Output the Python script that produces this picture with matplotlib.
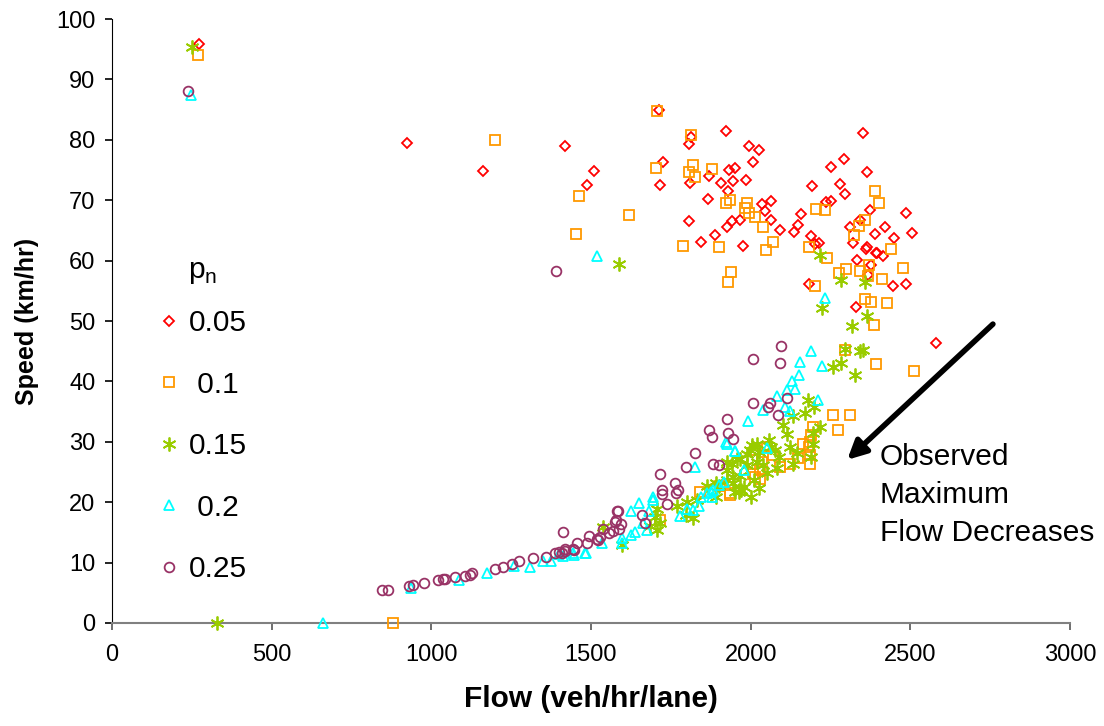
import matplotlib
matplotlib.use("Agg")
import matplotlib.pyplot as plt

plt.rcParams["font.family"] = ["Liberation Sans", "DejaVu Sans"]

# p_n = 0.05
flow_005 = [272, 923, 1161, 1420, 1489, 1511, 1714, 1716, 1727, 1808, 1808, 1810, 1812, 1846, 1867,
            1871, 1888, 1906, 1923, 1927, 1929, 1933, 1942, 1944, 1952, 1967, 1975, 1986, 1994, 2008,
            2025, 2036, 2046, 2065, 2065, 2092, 2137, 2148, 2159, 2182, 2188, 2193, 2213, 2236, 2251,
            2253, 2280, 2292, 2295, 2310, 2320, 2330, 2332, 2343, 2351, 2364, 2364, 2366, 2374, 2376,
            2389, 2391, 2397, 2416, 2422, 2447, 2449, 2485, 2487, 2505, 2581, 2200, 2362]
speed_005 = [95.8, 79.5, 74.9, 78.9, 72.5, 74.9, 85.0, 72.5, 76.3, 66.5, 79.3, 72.8, 80.5, 63.0, 70.2,
             74.0, 64.3, 72.8, 81.5, 65.6, 71.6, 75.0, 66.5, 73.1, 75.4, 66.8, 62.4, 73.3, 79.0, 76.4,
             78.3, 69.4, 68.2, 69.9, 66.7, 65.1, 64.7, 65.9, 67.7, 56.1, 64.0, 72.4, 62.9, 69.7, 69.8,
             75.5, 72.7, 76.9, 71.0, 65.6, 62.9, 52.4, 60.1, 66.7, 81.1, 74.7, 62.3, 57.6, 68.4, 59.3,
             64.4, 61.3, 61.2, 60.8, 65.5, 55.8, 63.7, 56.2, 67.8, 64.6, 46.4, 62.7, 62.0]

# p_n = 0.1
flow_010 = [269, 881, 1200, 1453, 1464, 1618, 1704, 1706, 1788, 1806, 1812, 1819, 1825, 1879, 1902,
            1923, 1929, 1935, 1938, 1981, 1990, 1996, 2015, 2040, 2048, 2069, 2182, 2201, 2205, 2234,
            2238, 2278, 2300, 2323, 2338, 2343, 2357, 2359, 2366, 2372, 2378, 2387, 2389, 2393, 2401,
            2412, 2426, 2439, 2478, 2510, 2295, 2259, 2311, 2272, 2196, 2188, 2186, 2182, 2165, 2186,
            2149, 2123, 2092, 2071, 2052, 2014, 2036, 2029, 2006, 2014, 2029, 1935, 1904, 1841, 1934,
            1716, 2186]
speed_010 = [94.0, 0.0, 80.0, 64.4, 70.7, 67.5, 75.4, 84.7, 62.5, 74.6, 80.8, 75.8, 73.9, 75.2, 62.2,
             69.6, 56.5, 70.1, 58.1, 68.7, 69.5, 67.8, 67.3, 65.5, 61.8, 63.1, 62.3, 55.8, 68.5, 68.3,
             60.4, 58.0, 58.6, 64.2, 65.7, 58.2, 53.6, 66.7, 57.4, 59.3, 53.2, 49.3, 71.5, 42.8, 69.5,
             56.9, 53.0, 61.9, 58.7, 41.8, 45.2, 34.4, 34.5, 32.0, 32.5, 31.1, 27.8, 29.2, 29.6, 26.4,
             27.3, 26.4, 25.8, 27.8, 29.2, 28.6, 26.6, 25.3, 24.7, 24.2, 23.8, 21.5, 22.6, 21.7, 21.2,
             17.0, 29.9]

# p_n = 0.15
flow_015 = [251, 329, 1589, 2217, 2282, 2359, 2224, 2364, 2318, 2343, 2295, 2282, 2259, 2326, 2180,
            2199, 2171, 2217, 2196, 2100, 2113, 2134, 2057, 2063, 2077, 2123, 2196, 2145, 2019, 2090,
            2134, 2188, 1998, 1967, 1988, 2019, 2040, 2050, 2081, 1942, 1927, 1967, 2011, 1946, 1900,
            1979, 1965, 2027, 1539, 1597, 1706, 1702, 1706, 1685, 1715, 1768, 1800, 1820, 1799, 1831,
            1862, 1893, 1925, 1946, 1925, 1956, 1988, 2000, 1971, 1950, 1893, 2004, 2025, 2353]
speed_015 = [95.3, 0.0, 59.5, 61.0, 56.8, 56.4, 52.2, 50.8, 49.2, 45.0, 45.3, 43.0, 42.4, 41.0, 36.9,
             35.7, 34.7, 32.5, 31.5, 32.8, 31.3, 34.3, 30.3, 29.2, 28.6, 29.2, 29.7, 28.1, 29.7, 27.5,
             26.4, 27.5, 28.6, 27.1, 26.2, 26.7, 26.1, 24.8, 25.6, 26.4, 25.3, 24.4, 23.7, 23.2, 22.6,
             22.5, 21.7, 22.3, 15.9, 12.9, 18.9, 17.6, 15.4, 16.0, 16.5, 19.3, 20.1, 17.4, 17.8, 20.4,
             22.7, 23.1, 23.7, 24.2, 26.6, 27.2, 28.0, 20.8, 22.0, 21.7, 20.8, 29.4, 28.3, 45.2]

# p_n = 0.2
flow_020 = [247, 661, 1520, 2234, 2189, 2155, 2224, 2152, 2130, 2140, 2115, 2084, 2211, 2038, 2107,
            2124, 1992, 1927, 2050, 1952, 1979, 1827, 1915, 1695, 1875, 1900, 1883, 1862, 1878, 1844,
            1839, 1800, 1779, 1818, 1693, 1651, 1626, 1681, 1664, 1675, 1639, 1626, 1597, 1597, 1535,
            1482, 1444, 1413, 937, 1086, 1174, 1259, 1309, 1349, 1374, 1401, 1446, 1484, 1923, 1950]
speed_020 = [87.4, 0.0, 60.8, 53.8, 45.0, 43.2, 42.6, 41.1, 40.0, 38.7, 38.5, 37.5, 37.0, 35.3, 35.8,
             35.1, 33.5, 29.7, 28.9, 28.4, 25.3, 25.9, 23.4, 20.9, 21.7, 22.9, 22.0, 21.5, 20.9, 20.9,
             19.3, 18.9, 17.7, 18.7, 20.4, 19.8, 18.6, 18.5, 16.6, 15.4, 15.1, 14.5, 14.1, 13.2, 13.2,
             11.6, 11.6, 11.1, 5.8, 7.1, 8.3, 9.4, 9.2, 10.2, 10.2, 11.4, 11.3, 11.6, 29.9, 28.4]

# p_n = 0.25
flow_025 = [239, 1391, 2094, 2008, 2092, 2115, 2008, 2061, 2054, 2086, 1927, 1871, 1879, 1929, 1946,
            1825, 1798, 1881, 1902, 1716, 1764, 1773, 1721, 1723, 1765, 1737, 1585, 1660, 1670, 1578,
            1595, 1587, 1569, 1557, 1528, 1521, 1493, 1486, 1457, 1445, 1420, 1413, 1409, 846, 864,
            931, 942, 977, 1021, 1036, 1044, 1073, 1106, 1120, 1127, 1198, 1223, 1253, 1276, 1318,
            1360, 1388, 1401, 1418, 1446, 1520, 1539, 1574, 1583]
speed_025 = [88.1, 58.3, 45.9, 43.7, 43.1, 37.3, 36.4, 36.4, 35.7, 34.4, 33.7, 32.0, 30.8, 31.4, 30.4,
             28.1, 25.8, 26.3, 26.1, 24.6, 23.1, 22.1, 22.0, 21.4, 21.6, 19.7, 18.6, 17.9, 16.5, 17.1,
             16.4, 15.5, 15.2, 14.9, 14.3, 13.8, 14.4, 13.2, 13.3, 12.2, 11.9, 15.1, 11.6, 5.4, 5.5,
             6.1, 6.3, 6.7, 7.1, 7.2, 7.3, 7.6, 7.8, 8.0, 8.2, 8.9, 9.2, 9.8, 10.2, 10.8,
             11.0, 11.6, 11.8, 12.2, 12.1, 13.9, 15.5, 16.7, 18.6]

series = [
    ("0.05", flow_005, speed_005, "D", "#FF0000", 5.0),
    (" 0.1", flow_010, speed_010, "s", "#FF9900", 7.0),
    ("0.15", flow_015, speed_015, (6, 2, 0), "#99CC00", 10.0),
    (" 0.2", flow_020, speed_020, "^", "#00FFFF", 7.0),
    ("0.25", flow_025, speed_025, "o", "#993366", 7.0),
]

fig = plt.figure(figsize=(11.04, 7.26), dpi=100)
ax = fig.add_axes([0.1014, 0.1419, 0.8678, 0.8319])

for i, (lab, fx, sy, mk, col, ms) in enumerate(series):
    ax.plot(fx, sy, linestyle="none", marker=mk, markersize=ms,
            markerfacecolor="none", markeredgecolor=col, markeredgewidth=1.3,
            label=lab, clip_on=False, zorder=3 + i)

ax.set_xlim(0, 3000)
ax.set_ylim(0, 100)
ax.set_xticks(range(0, 3001, 500))
ax.set_yticks(range(0, 101, 10))
ax.spines["top"].set_visible(False)
ax.spines["right"].set_visible(False)
ax.spines["left"].set_color("black")
ax.spines["bottom"].set_color("#808080")
ax.spines["bottom"].set_linewidth(1.5)
ax.tick_params(axis="x", direction="out", length=5, width=1.2, color="#555555",
               labelsize=17, pad=10)
ax.tick_params(axis="y", direction="out", length=5, width=1.2, color="black",
               labelsize=17, pad=7)

ax.set_xlabel("Flow (veh/hr/lane)", fontsize=21.5, fontweight="bold", labelpad=14)
ax.set_ylabel("Speed (km/hr)", fontsize=18, fontweight="bold", labelpad=12)

leg = ax.legend(loc="upper left", bbox_to_anchor=(0.133, 0.664), bbox_transform=fig.transFigure,
                frameon=False, fontsize=21.5, title="p$_\\mathregular{n}$",
                title_fontsize=21.5, labelspacing=1.12, handlelength=0.7,
                handletextpad=0.3, borderaxespad=0)
leg._legend_box.sep = 17

ax.annotate("", xy=(2296, 26.7), xytext=(2765, 49.8),
            arrowprops=dict(arrowstyle="-|>", lw=4, color="black", mutation_scale=28))
ax.text(2405, 29.8, "Observed\nMaximum\nFlow Decreases", fontsize=21.5, va="top", ha="left",
        linespacing=1.45)

fig.savefig("out.png", dpi=100)
